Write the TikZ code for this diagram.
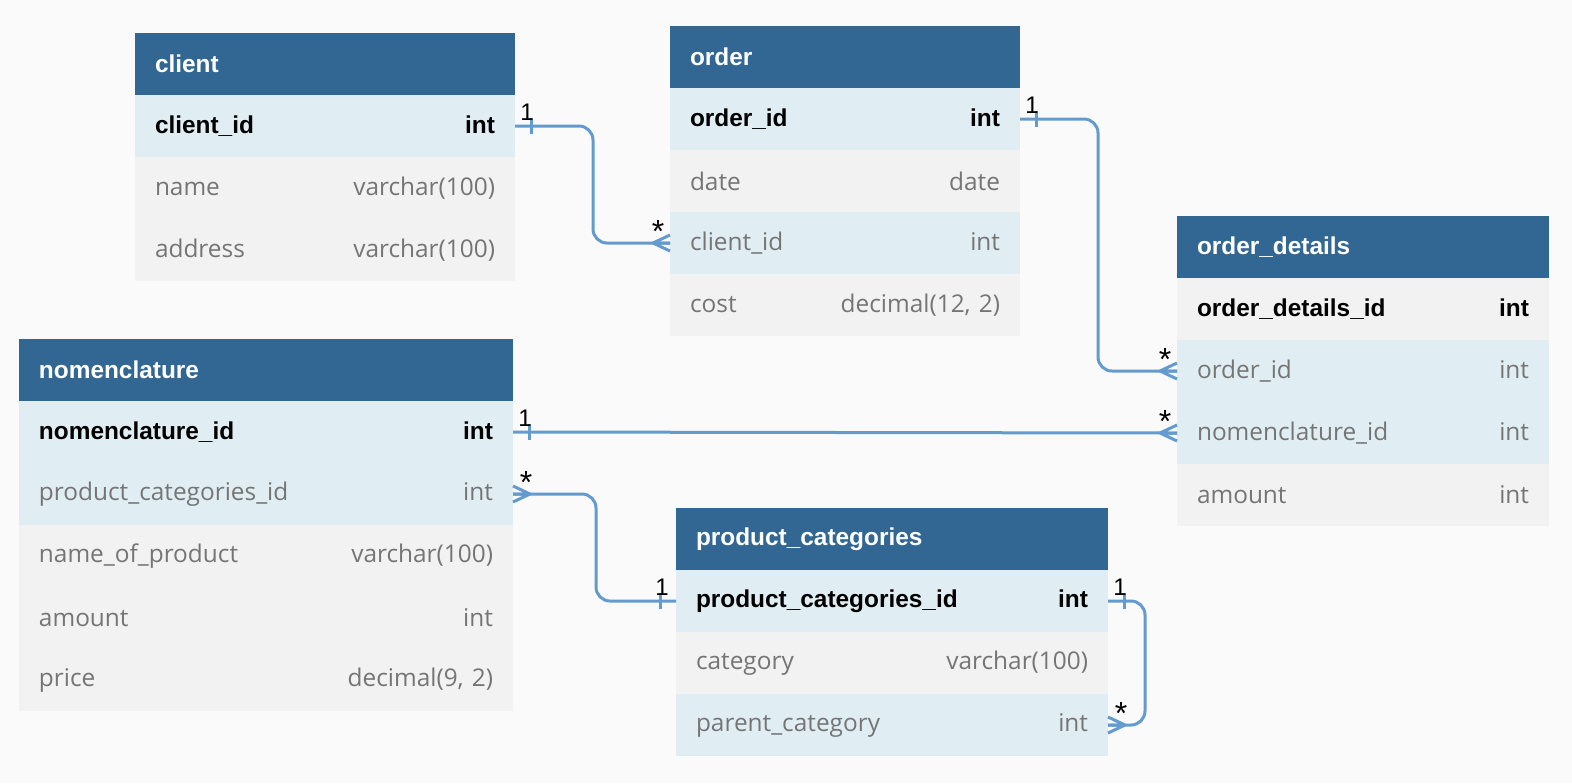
\documentclass[tikz,border=0pt]{standalone}
\usepackage{fontspec}
\setmainfont{Open Sans}
\newfontfamily\keyfont{Liberation Sans}
\usetikzlibrary{positioning}
\definecolor{canvas}{RGB}{250, 250, 250}
\definecolor{head}{RGB}{49, 103, 146}
\definecolor{keyrow}{RGB}{224, 238, 244}
\definecolor{plainrow}{RGB}{242, 242, 242}
\definecolor{field}{RGB}{117, 117, 117}
\definecolor{link}{RGB}{99, 155, 207}

\begin{document}
\begin{tikzpicture}[x=0.5pt, y=-0.5pt,
    row/.style={anchor=north west, minimum height=31pt, inner xsep=10pt,
      inner ysep=0pt, outer sep=0pt, align=left,
      font=\fontsize{12.2}{14}\selectfont},
    title/.style={row, fill=head, text=white, font=\keyfont\fontsize{12.2}{14}\selectfont\bfseries},
    pk/.style={fill=keyrow, text=black, font=\keyfont\fontsize{12.2}{14}\selectfont\bfseries},
    pkg/.style={fill=plainrow, text=black, font=\keyfont\fontsize{12.2}{14}\selectfont\bfseries},
    fk/.style={fill=keyrow, text=field},
    plain/.style={fill=plainrow, text=field},
    rel/.style={draw=link, line width=1.5pt, rounded corners=7pt},
    card/.style={font=\keyfont\fontsize{12}{14}\selectfont, inner sep=0pt},
    star/.style={font=\keyfont\fontsize{16}{18}\selectfont, inner sep=0pt},
    many/.pic={\draw[rel] (-17,0) -- (0,-8) (-17,0) -- (0,0) (-17,0) -- (0,8);},
    one/.pic={\draw[rel] (16,-8) -- (16,8);}]
  \fill[canvas] (0,0) rectangle (1572,783);
  \useasboundingbox (0,0) rectangle (1572,783);

  % Table: client
  \node[title, minimum width=190pt, text width=170pt] (client) at (135,33) {client};
  \foreach \f/\t/\s [count=\n] in {
      client\_id/int/pk,
      name/varchar(100)/plain,
      address/varchar(100)/plain} {
    \node[row, \s, minimum width=190pt, text width=170pt] (client-\n)
      at (135,33+62*\n) {\f\hfill\t};
  }

  % Table: order
  \node[title, minimum width=175pt, text width=155pt] (order) at (670,26) {order};
  \foreach \f/\t/\s [count=\n] in {
      order\_id/int/pk,
      date/date/plain,
      client\_id/int/fk,
      {cost/decimal(12, 2)/plain}} {
    \node[row, \s, minimum width=175pt, text width=155pt] (order-\n)
      at (670,26+62*\n) {\f\hfill\t};
  }

  % Table: order_details
  \node[title, minimum width=186pt, text width=166pt] (details) at (1177,216) {order\_details};
  \foreach \f/\t/\s [count=\n] in {
      order\_details\_id/int/pkg,
      order\_id/int/fk,
      nomenclature\_id/int/fk,
      amount/int/plain} {
    \node[row, \s, minimum width=186pt, text width=166pt] (details-\n)
      at (1177,216+62*\n) {\f\hfill\t};
  }

  % Table: nomenclature
  \node[title, minimum width=247pt, text width=227pt] (nomen) at (19,339) {nomenclature};
  \foreach \f/\t/\s [count=\n] in {
      nomenclature\_id/int/pk,
      product\_categories\_id/int/fk,
      name\_of\_product/varchar(100)/plain,
      amount/int/plain,
      {price/decimal(9, 2)/plain}} {
    \node[row, \s, minimum width=247pt, text width=227pt] (nomen-\n)
      at (19,339+62*\n) {\f\hfill\t};
  }

  % Table: product_categories
  \node[title, minimum width=216pt, text width=196pt] (categ) at (676,508) {product\_categories};
  \foreach \f/\t/\s [count=\n] in {
      product\_categories\_id/int/pk,
      category/varchar(100)/plain,
      parent\_category/int/fk} {
    \node[row, \s, minimum width=216pt, text width=196pt] (categ-\n)
      at (676,508+62*\n) {\f\hfill\t};
  }

  % Relations
  \draw[rel] (client-1.east) -- ++(78,0) |- (order-3.west);
  \draw[rel] (order-1.east) -- ++(78,0) |- (details-2.west);
  \draw[rel] (nomen-1.east) -- (details-3.west);
  \draw[rel] (nomen-2.east) -- ++(83,0) |- (categ-1.west);
  \draw[rel] (categ-1.east) -- ++(37,0) |- (categ-3.east);

  % Ends: bars and crow's feet
  \pic at (client-1.east) {one};
  \pic at (order-1.east) {one};
  \pic at (nomen-1.east) {one};
  \pic[rotate=180] at (categ-1.west) {one};
  \pic at (categ-1.east) {one};
  \pic at (order-3.west) {many};
  \pic at (details-2.west) {many};
  \pic at (details-3.west) {many};
  \pic[rotate=180] at (nomen-2.east) {many};
  \pic[rotate=180] at (categ-3.east) {many};

  % Cardinality labels
  \node[card] (c-client) at ([xshift=6pt, yshift=7pt]client-1.east) {1};
  \node[card] (c-order) at ([xshift=6pt, yshift=7pt]order-1.east) {1};
  \node[card] (c-nomen) at ([xshift=6pt, yshift=7pt]nomen-1.east) {1};
  \node[card] (c-categ) at ([xshift=-7pt, yshift=7pt]categ-1.west) {1};
  \node[card] (c-self) at ([xshift=6pt, yshift=7pt]categ-1.east) {1};
  \node[star] (m-order) at ([xshift=-6pt, yshift=6pt]order-3.west) {*};
  \node[star] (m-details) at ([xshift=-6pt, yshift=6pt]details-2.west) {*};
  \node[star] (m-nomen) at ([xshift=-6pt, yshift=6pt]details-3.west) {*};
  \node[star] (m-prod) at ([xshift=6.5pt, yshift=6pt]nomen-2.east) {*};
  \node[star] (m-self) at ([xshift=6.5pt, yshift=6pt]categ-3.east) {*};
\end{tikzpicture}
\end{document}
